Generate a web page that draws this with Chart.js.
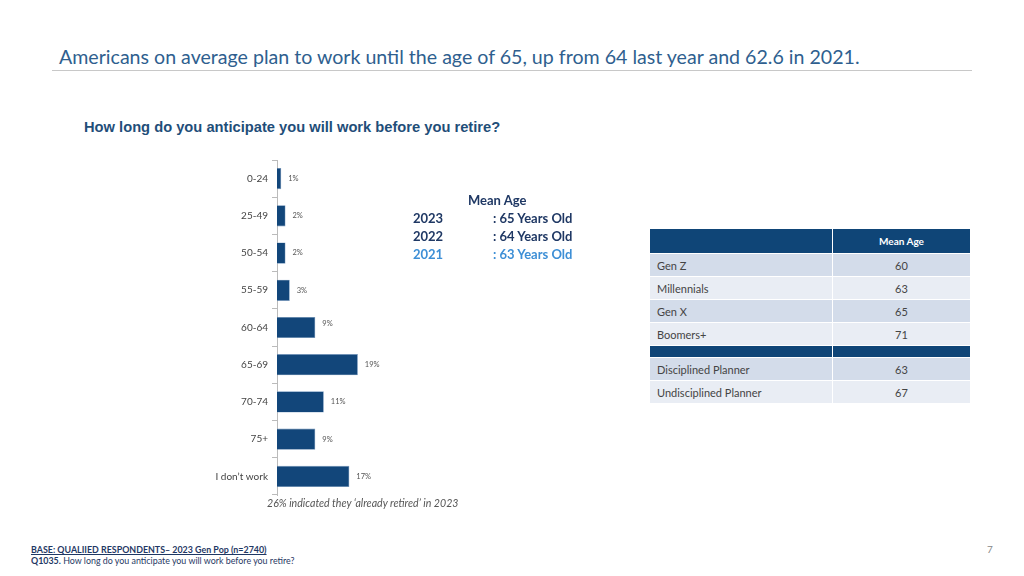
<!DOCTYPE html>
<html>
<head>
<meta charset="utf-8">
<script src="https://cdn.jsdelivr.net/npm/chart.js@4"></script>
<style>
  html, body { margin: 0; padding: 0; background: #fff; }
  body { width: 1024px; height: 576px; position: relative; overflow: hidden; font-family: Lato, "Open Sans", sans-serif; }
  .abs { position: absolute; white-space: nowrap; }
  #title { left: 59px; top: 45px; font-size: 19.6px; color: #2f5f8f; }
  #rule { left: 52px; top: 70px; width: 920px; height: 1px; background: #c8c8c8; }
  #sub { left: 84px; top: 119px; font-family: "Liberation Sans", Arial, sans-serif; font-weight: bold; font-size: 14.7px; color: #1f4e79; }
  #chartBox { left: 150px; top: 150px; width: 333px; height: 355px; }
  #note { left: 267px; top: 497px; font-size: 10.6px; font-style: italic; color: #555; }
  #mean { left: 405px; top: 192px; font-size: 13px; font-weight: bold; color: #1f3864; }
  #mean .hd { position: absolute; left: 63px; top: 0; }
  #mean .row { position: absolute; left: 8px; }
  #mean .row span { position: absolute; left: 80px; }
  #tbl { left: 649px; top: 228px; border-collapse: collapse; font-size: 11px; color: #444; }
  #tbl td { padding: 0; height: 22px; border: 1px solid #fff; }
  #tbl td.l { width: 175px; padding-left: 7px; }
  #tbl td.r { width: 137px; text-align: center; }
  #tbl tr.h td { background: #0f4577; color: #fff; font-weight: bold; font-size: 10px; height: 24px; }
  #tbl tr.s td { background: #0f4577; height: 11px; }
  #tbl tr.a td { background: #d3dcea; }
  #tbl tr.b td { background: #e9edf4; }
  #foot { left: 31px; top: 544px; font-size: 8.9px; color: #1f3864; line-height: 11px; }
  #pg { left: 987px; top: 543px; font-size: 10px; color: #888; }
</style>
</head>
<body>
<div class="abs" id="title">Americans on average plan to work until the age of 65, up from 64 last year and 62.6 in 2021.</div>
<div class="abs" id="rule"></div>
<div class="abs" id="sub">How long do you anticipate you will work before you retire?</div>
<div class="abs" id="chartBox"><canvas id="chart"></canvas></div>
<div class="abs" id="note">26% indicated they ‘already retired’ in 2023</div>
<div class="abs" id="mean"></div>
<table class="abs" id="tbl"></table>
<div class="abs" id="foot"><b><u>BASE: QUALIIED RESPONDENTS– 2023 Gen Pop (n=2740)</u></b><br><b>Q1035.</b> How long do you anticipate you will work before you retire?</div>
<div class="abs" id="pg">7</div>
<script>
const categories = ['0-24', '25-49', '50-54', '55-59', '60-64', '65-69', '70-74', '75+', 'I don’t work'];
const percents = [1, 2, 2, 3, 9, 19, 11, 9, 17];

const meanYears = ['2023', '2022', '2021'];
const meanAges = [65, 64, 63];

const groups = ['Gen Z', 'Millennials', 'Gen X', 'Boomers+'];
const groupAges = [60, 63, 65, 71];
const planners = ['Disciplined Planner', 'Undisciplined Planner'];
const plannerAges = [63, 67];

// mean age text block
const $mean = document.querySelector('#mean');
let html = '<div class="hd">Mean Age</div>';
meanYears.forEach((y, i) => {
    const color = i === 2 ? '#3d8fd6' : '#1f3864';
    html += '<div class="row" style="top:' + (18 * (i + 1)) + 'px;color:' + color + '">' + y +
        '<span>: ' + meanAges[i] + ' Years Old</span></div>';
});
$mean.innerHTML = html;

// side table
const $tbl = document.querySelector('#tbl');
let rows = '<tr class="h"><td class="l"></td><td class="r">Mean Age</td></tr>';
groups.forEach((g, i) => {
    rows += '<tr class="' + (i % 2 ? 'b' : 'a') + '"><td class="l">' + g + '</td><td class="r">' + groupAges[i] + '</td></tr>';
});
rows += '<tr class="s"><td></td><td></td></tr>';
planners.forEach((p, i) => {
    rows += '<tr class="' + (i % 2 ? 'b' : 'a') + '"><td class="l">' + p + '</td><td class="r">' + plannerAges[i] + '</td></tr>';
});
$tbl.innerHTML = rows;

// value labels at bar ends
const barLabels = {
    id: 'barLabels',
    afterDatasetsDraw(chart) {
        const ctx = chart.ctx;
        const meta = chart.getDatasetMeta(0);
        ctx.save();
        ctx.font = '7.5px Lato, sans-serif';
        ctx.fillStyle = '#555';
        ctx.textBaseline = 'middle';
        meta.data.forEach((bar, i) => {
            const dy = i === 4 ? -4 : 0;
            ctx.fillText(percents[i] + '%', bar.x + 7, bar.y + dy);
        });
        ctx.restore();
    }
};

new Chart(document.querySelector('#chart'), {
    type: 'bar',
    data: {
        labels: categories,
        datasets: [{
            data: percents,
            backgroundColor: '#12467a',
            borderColor: '#6f93bb',
            borderWidth: 0.6,
            barPercentage: 0.57,
            categoryPercentage: 1
        }]
    },
    options: {
        indexAxis: 'y',
        responsive: true,
        maintainAspectRatio: false,
        animation: false,
        layout: { padding: { right: 40, top: 0, bottom: 0, left: 0 } },
        plugins: { legend: { display: false }, tooltip: { enabled: false } },
        scales: {
            x: { display: false, min: 0, max: 39 },
            y: {
                afterFit(scale) { scale.width = 127; },
                grid: { offset: true, drawOnChartArea: false, tickLength: 5, color: '#bbb' },
                border: { color: '#bbb' },
                ticks: { color: '#444', font: { size: 10, family: 'Lato, sans-serif' }, padding: 4 }
            }
        }
    },
    plugins: [barLabels]
});
</script>
</body>
</html>
